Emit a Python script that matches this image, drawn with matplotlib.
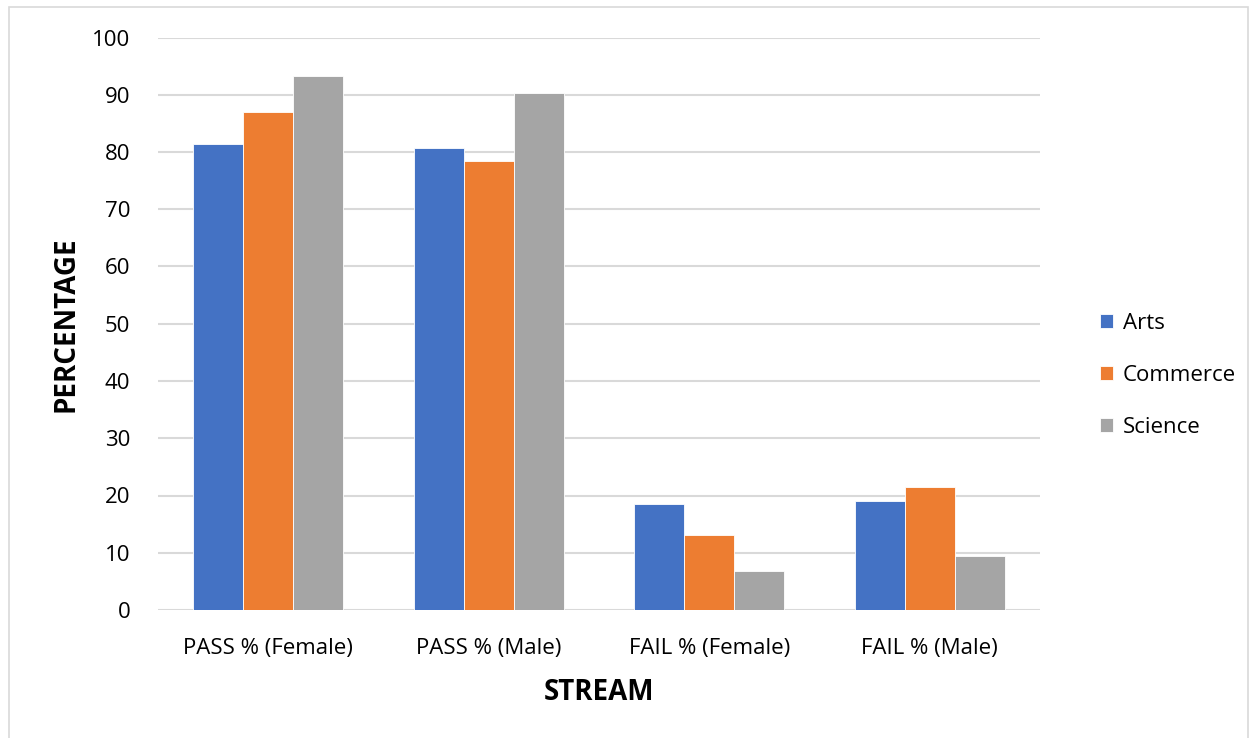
import numpy as np
import matplotlib.pyplot as plt
from matplotlib.patches import Rectangle

plt.rcParams['font.family'] = ['Open Sans', 'DejaVu Sans']

# Data
categories = ["PASS % (Female)", "PASS % (Male)", "FAIL % (Female)", "FAIL % (Male)"]
arts = [81.4, 80.7, 18.6, 19.0]
commerce = [86.9, 78.5, 13.1, 21.5]
science = [93.2, 90.3, 6.8, 9.4]
series_names = ["Arts", "Commerce", "Science"]
colors = ["#4472C4", "#ED7D31", "#A5A5A5"]

W, H = 1251, 738
fig = plt.figure(figsize=(W / 100, H / 100), dpi=100)
ax = fig.add_axes([158 / W, 1 - 610 / H, (1040 - 158) / W, (610 - 37.5) / H])

x = np.arange(len(categories))
bw = 0.227
for i, (vals, name, c) in enumerate(zip([arts, commerce, science], series_names, colors)):
    ax.bar(x + (i - 1) * bw, vals, width=bw, color=c, label=name,
           edgecolor='white', linewidth=0.6, zorder=3)

ax.set_xlim(-0.5, len(categories) - 0.5)
ax.set_ylim(0, 100)
ax.set_yticks(np.arange(0, 101, 10))
ax.yaxis.grid(True, color='#D9D9D9', linewidth=1.5, zorder=0)
for s in ax.spines.values():
    s.set_visible(False)
ax.tick_params(axis='both', length=0, labelsize=16, colors='black')
ax.tick_params(axis='y', pad=20)
ax.tick_params(axis='x', pad=20)
ax.set_xticks(x)
ax.set_xticklabels(categories)

ax.set_xlabel("STREAM", fontsize=20, fontweight='bold', labelpad=14)
ax.set_ylabel("PERCENTAGE", fontsize=20, fontweight='bold', labelpad=8)

ax.legend(loc='center left', bbox_to_anchor=(1.045, 0.41), frameon=False,
          fontsize=16, handlelength=0.6, handleheight=0.6, labelspacing=1.4,
          handletextpad=0.45)

# chart area border
fig.patches.append(Rectangle((9 / W, -0.01), (W - 12) / W, 1 - 7 / H + 0.01,
                             transform=fig.transFigure, fill=False,
                             edgecolor='#D9D9D9', linewidth=1.2))

fig.savefig("out.png", dpi=100, facecolor='white')
